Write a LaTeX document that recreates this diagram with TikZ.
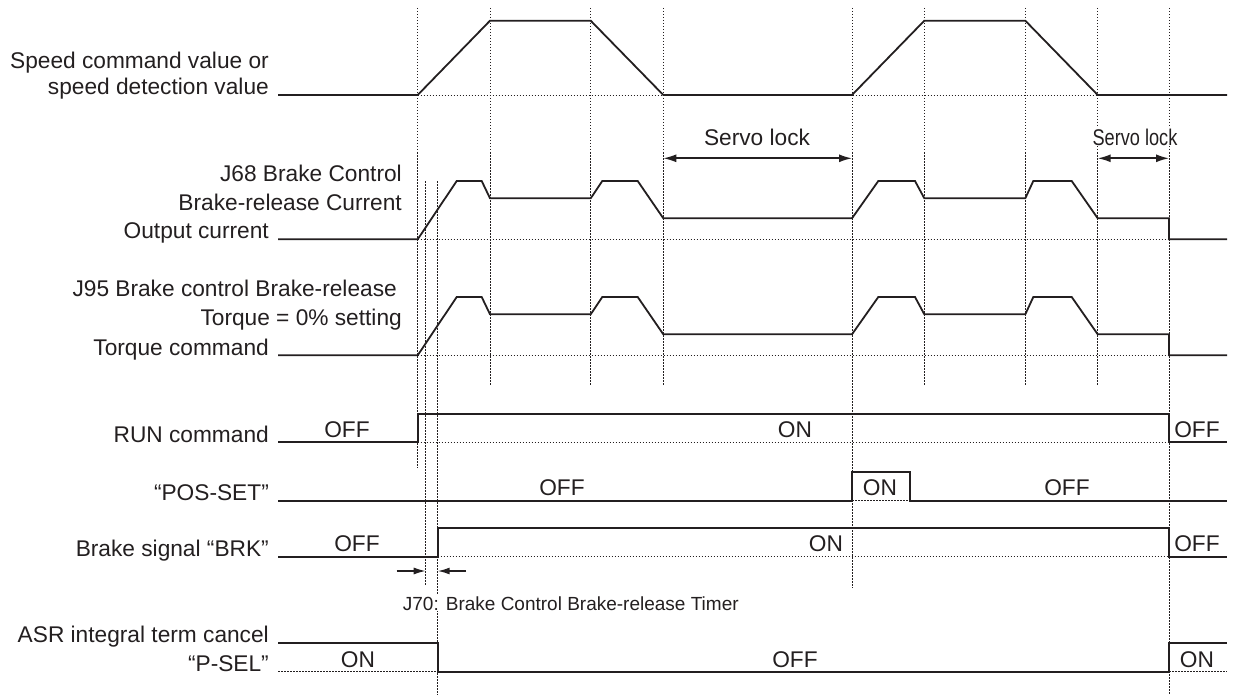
\documentclass[tikz,border=0pt]{standalone}
\usepackage{fontspec}
\setmainfont{Liberation Sans}
\usetikzlibrary{arrows.meta}
\definecolor{ink}{HTML}{231F20}
\begin{document}
\begin{tikzpicture}[x=1pt,y=-1pt,
  sig/.style={line width=1.8pt, line join=miter, ink},
  grid/.style={line width=0.9pt, dash pattern=on 1.5pt off 1.5pt, ink},
  lbl/.style={font=\fontsize{22.7}{28}\selectfont, text=ink, inner sep=0pt, anchor=base east},
  st/.style={font=\fontsize{22.7}{26}\selectfont, text=ink, inner sep=0pt, anchor=base},
  dbl/.style={line width=1.6pt, ink, {Latex[length=13pt,width=8pt]}-{Latex[length=13pt,width=8pt]}},
  sgl/.style={line width=1.5pt, ink, -{Latex[length=12pt,width=7pt]}},
]
\useasboundingbox (0,0) rectangle (1238,695);

% ---- vertical guide lines
\draw[grid] (417.7,8) -- (417.7,468);
\draw[grid] (425.7,181) -- (425.7,585);
\draw[grid] (437.7,181) -- (437.7,695);
\foreach \x in {490,590.7,663.3,924.3,1025.3,1097.7}
  \draw[grid] (\x,8) -- (\x,385);
\draw[grid] (852,8) -- (852,588);
\draw[grid] (1169,8) -- (1169,695);

% ---- dotted baselines
\draw[grid] (417.7,95) -- (1169,95);
\draw[grid] (417.7,239.3) -- (1169,239.3);
\draw[grid] (417.7,355.3) -- (1169,355.3);
\draw[grid] (417.7,442.3) -- (1169,442.3);
\draw[grid] (852,500.7) -- (910,500.7);
\draw[grid] (437.7,556.7) -- (1169,556.7);
\draw[grid] (278,671.7) -- (437.7,671.7);
\draw[grid] (1169,671.7) -- (1227,671.7);

% ---- speed
\draw[sig] (278,95) -- (417.7,95) -- (490,20.7) -- (590.7,20.7) -- (663.3,95)
  -- (852,95) -- (924.3,20.7) -- (1025.3,20.7) -- (1097.7,95) -- (1227,95);

% ---- output current and torque command
\foreach \dy in {0,116}{
\begin{scope}[shift={(0,\dy)}]
\draw[sig] (278,239.3) -- (417.7,239.3) -- (456.7,181) -- (481.7,181) -- (490,198.3)
  -- (590.7,198.3) -- (602.3,181) -- (637.7,181) -- (663.3,218.3) -- (852,218.3)
  -- (878.3,181) -- (915,181) -- (924.3,198.3) -- (1025.3,198.3) -- (1033.3,181)
  -- (1071.7,181) -- (1097.7,218.3) -- (1169,218.3) -- (1169,239.3) -- (1227,239.3);
\end{scope}}

% ---- RUN
\draw[sig] (278,442.3) -- (417.7,442.3) -- (417.7,413.7) -- (1169,413.7) -- (1169,442.3) -- (1227,442.3);
% ---- POS-SET
\draw[sig] (278,500.7) -- (852,500.7) -- (852,471.7) -- (910,471.7) -- (910,500.7) -- (1227,500.7);
% ---- BRK
\draw[sig] (278,556.7) -- (437.7,556.7) -- (437.7,527.7) -- (1169,527.7) -- (1169,556.7) -- (1227,556.7);
% ---- ASR
\draw[sig] (278,643.3) -- (437.7,643.3) -- (437.7,671.7) -- (1169,671.7) -- (1169,643.3) -- (1227,643.3);

% ---- servo lock arrows
\node[st, anchor=center] (sl1) at (757,137) {Servo lock};
\coordinate (sl1a) at (663.3,158.3);
\coordinate (sl1b) at (852,158.3);
\draw[dbl] (sl1a) -- (sl1b);
\node[st, anchor=center, fill=white, inner sep=1pt] (sl2) at (1135,137) {\scalebox{0.8}[1]{Servo lock}};
\coordinate (sl2a) at (1097.7,158.3);
\coordinate (sl2b) at (1169,158.3);
\draw[dbl] (sl2a) -- (sl2b);

% ---- timer arrows
\coordinate (ta1) at (396.7,571);
\coordinate (ta2) at (425.7,571);
\coordinate (tb1) at (466,571);
\coordinate (tb2) at (437.7,571);
\draw[sgl] (ta1) -- (ta2);
\draw[sgl] (tb1) -- (tb2);
\node[font=\fontsize{19}{22}\selectfont, text=ink, anchor=west, fill=white, inner sep=1pt] (j70) at (401.7,603.3) {J70: Brake Control Brake-release Timer};

% ---- left labels
\node[lbl] (l1a) at (269,68.3) {Speed command value or};
\node[lbl] (l1b) at (269,95) {speed detection value};
\node[lbl] (l2a) at (402,181.7) {J68 Brake Control};
\node[lbl] (l2b) at (402,210.7) {Brake-release Current};
\node[lbl] (l2c) at (269,238.3) {Output current};
\node[lbl] (l3a) at (397,296.7) {J95 Brake control Brake-release};
\node[lbl] (l3b) at (402,325.5) {Torque = 0\% setting};
\node[lbl] (l3c) at (269,355) {Torque command};
\node[lbl] (l4) at (269,442.3) {RUN command};
\node[lbl] (l5) at (269,500.7) {“POS-SET”};
\node[lbl] (l6) at (269,556.7) {Brake signal “BRK”};
\node[lbl] (l7a) at (269,642.7) {ASR integral term cancel};
\node[lbl] (l7b) at (269,671.7) {“P-SEL”};

% ---- state labels
\node[st] (s1) at (347,437.5) {OFF};
\node[st] (s2) at (795,437.5) {ON};
\node[st] (s3) at (1197,437.5) {OFF};
\node[st] (s4) at (562,495.5) {OFF};
\node[st] (s5) at (880,495.5) {ON};
\node[st] (s6) at (1067,495.5) {OFF};
\node[st] (s7) at (357,551.5) {OFF};
\node[st] (s8) at (826,551.5) {ON};
\node[st] (s9) at (1197,551.5) {OFF};
\node[st] (s10) at (358,667) {ON};
\node[st] (s11) at (795,667) {OFF};
\node[st] (s12) at (1197,667) {ON};
\end{tikzpicture}
\end{document}
